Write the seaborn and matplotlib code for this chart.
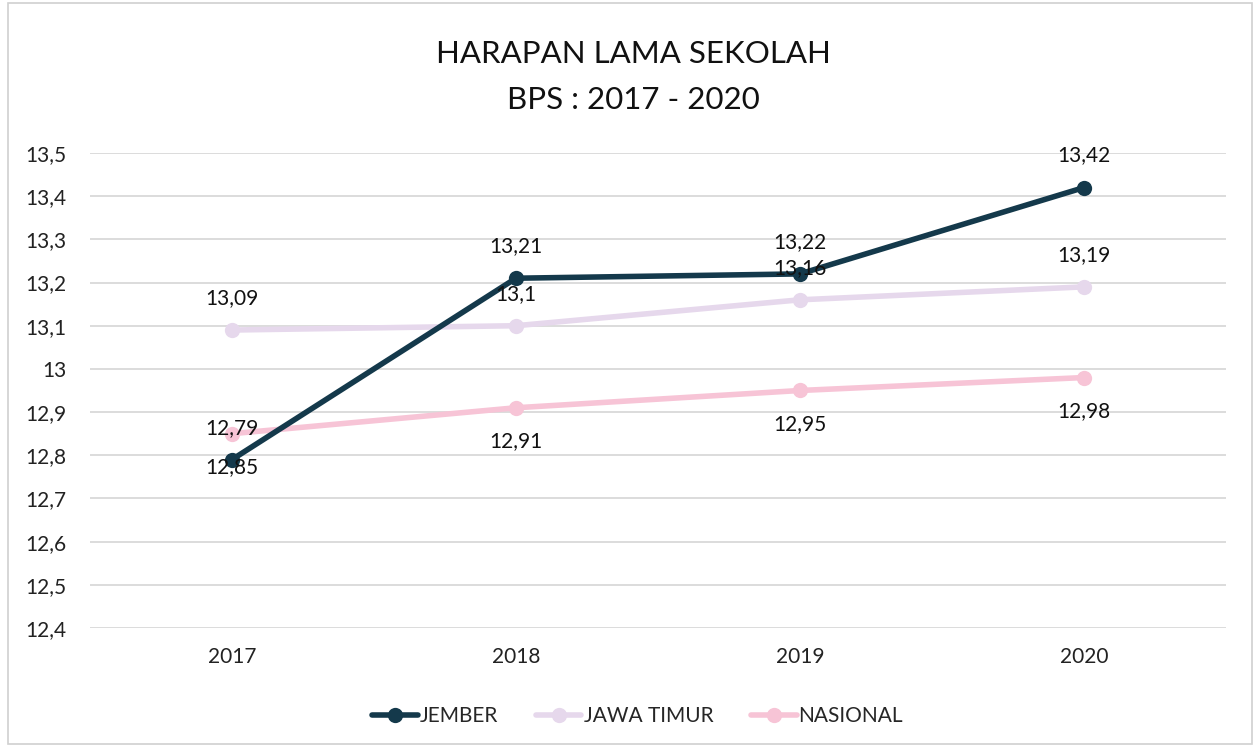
import matplotlib
matplotlib.use('Agg')

import pandas as pd
import matplotlib.pyplot as plt
import seaborn as sns
from matplotlib.ticker import FuncFormatter, MultipleLocator
from matplotlib.patches import Rectangle

# data
tahun = ['2017', '2018', '2019', '2020']
jember = [12.79, 13.21, 13.22, 13.42]
jawa_timur = [13.09, 13.10, 13.16, 13.19]
nasional = [12.85, 12.91, 12.95, 12.98]
seri = ['JEMBER', 'JAWA TIMUR', 'NASIONAL']
warna = ['#14394b', '#e6d8ec', '#f7c4d6']

df = pd.DataFrame({
    'tahun': tahun * 3,
    'nilai': jember + jawa_timur + nasional,
    'wilayah': [s for s in seri for _ in tahun],
})

sns.set_style('white')
plt.rcParams['font.family'] = ['Lato', 'DejaVu Sans']

fig = plt.figure(figsize=(12.6, 7.47), dpi=100)
ax = fig.add_axes([0.0714, 0.1593, 0.9016, 0.6359])

sns.lineplot(data=df, x='tahun', y='nilai', hue='wilayah', hue_order=seri,
             palette=warna, linewidth=4, marker='o', markersize=11,
             markeredgewidth=0, ax=ax, sort=False)

# jember di atas garis lain
ax.lines[0].set_zorder(5)

ax.set_xlim(-0.5, 3.5)
ax.set_ylim(12.4, 13.5)
ax.yaxis.set_major_locator(MultipleLocator(0.1))
ax.yaxis.set_major_formatter(FuncFormatter(lambda v, p: f'{round(v, 1):g}'.replace('.', ',')))
ax.grid(axis='y', color='#d9d9d9', linewidth=1.3)
ax.set_axisbelow(True)
for s in ax.spines.values():
    s.set_visible(False)
ax.tick_params(axis='both', length=0, labelsize=15, colors='#222222')
ax.tick_params(axis='y', pad=17)
ax.tick_params(axis='x', pad=14)
ax.set_xlabel('')
ax.set_ylabel('')

# label data
def label(vals, dy):
    for i, v in enumerate(vals):
        ax.annotate(f'{v:g}'.replace('.', ','), (i, v), xytext=(0, dy),
                    textcoords='offset points', ha='center', va='center',
                    fontsize=15, color='#111111', zorder=10)

label(jember, 23)
label(jawa_timur, 23)
label(nasional, -24)

fig.text(0.503, 0.928, 'HARAPAN LAMA SEKOLAH', ha='center', va='center', fontsize=22.5, color='#111111')
fig.text(0.503, 0.866, 'BPS : 2017 - 2020', ha='center', va='center', fontsize=22.5, color='#111111')

ax.legend(loc='center', bbox_to_anchor=(0.482, -0.185), ncol=3, frameon=False,
          fontsize=15, handlelength=2.2, handletextpad=0.1, columnspacing=1.8)

fig.patches.append(Rectangle((0.006, 0.004), 0.988, 0.992, transform=fig.transFigure,
                             fill=False, edgecolor='#d0d0d0', linewidth=1.2))

plt.savefig('out.png', dpi=100)
